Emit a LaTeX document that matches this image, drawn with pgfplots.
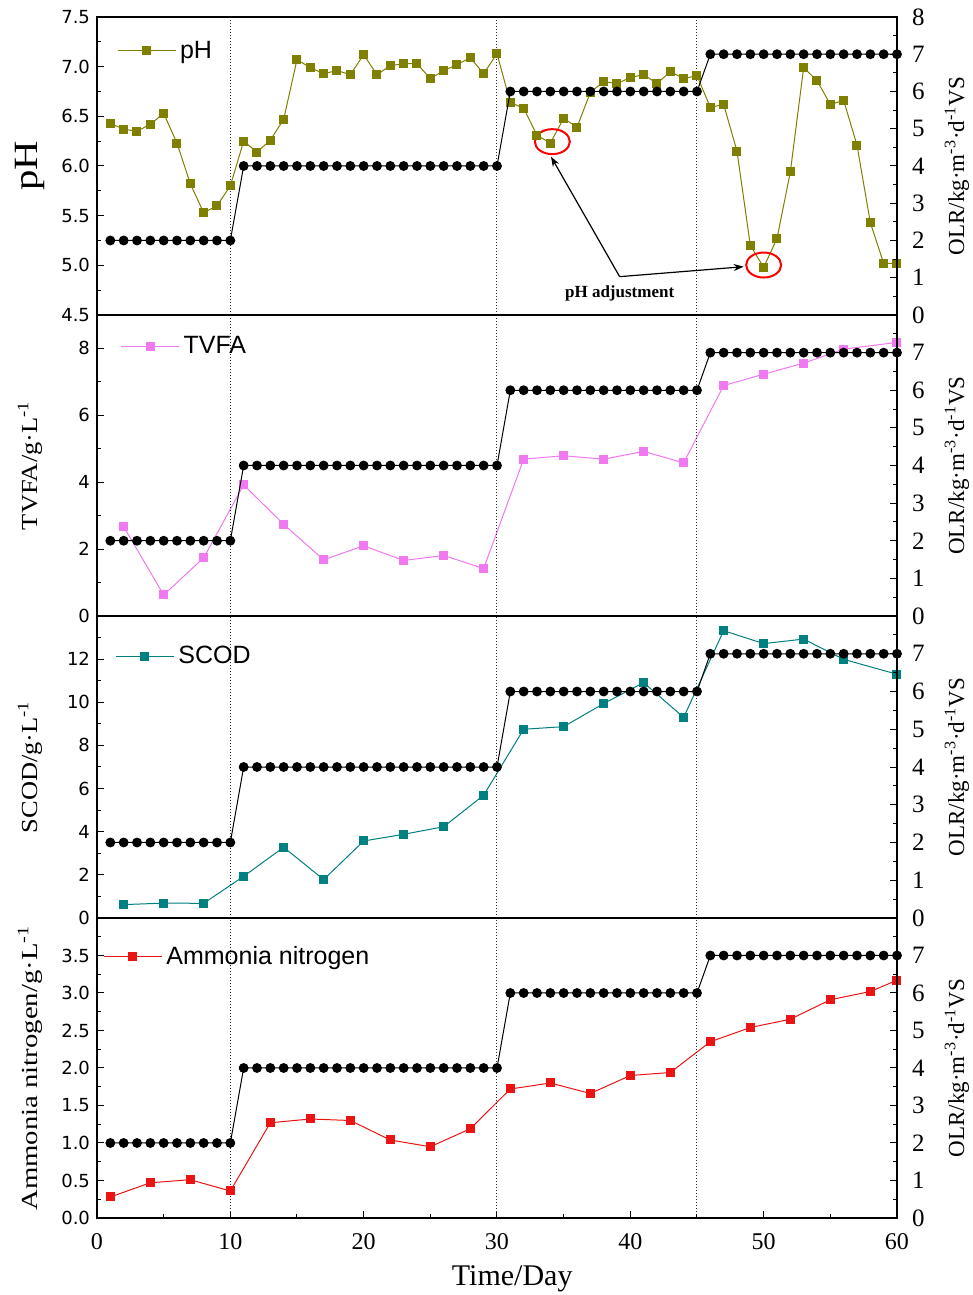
\documentclass[border=0pt]{standalone}
\usepackage{fontspec}
\setmainfont{Liberation Serif}
\newfontfamily\sansf{Liberation Sans}
\newfontfamily\dejavu{DejaVu Sans}
\usepackage{pgfplots}
\usepackage{pgfplotstable}
\pgfplotsset{compat=1.18}
\usetikzlibrary{arrows.meta}

\definecolor{phcol}{RGB}{128,128,0}
\definecolor{tvfacol}{RGB}{240,120,240}
\definecolor{scodcol}{RGB}{0,128,128}
\definecolor{nhcol}{RGB}{235,20,20}

% OLR steps (right axis of every panel)
\pgfplotstableread{
day olr
1 2
2 2
3 2
4 2
5 2
6 2
7 2
8 2
9 2
10 2
11 4
12 4
13 4
14 4
15 4
16 4
17 4
18 4
19 4
20 4
21 4
22 4
23 4
24 4
25 4
26 4
27 4
28 4
29 4
30 4
31 6
32 6
33 6
34 6
35 6
36 6
37 6
38 6
39 6
40 6
41 6
42 6
43 6
44 6
45 6
46 7
47 7
48 7
49 7
50 7
51 7
52 7
53 7
54 7
55 7
56 7
57 7
58 7
59 7
60 7
}\olrtab

\pgfplotstableread{
day ph
1 6.43
2 6.37
3 6.35
4 6.42
5 6.53
6 6.23
7 5.82
8 5.53
9 5.60
10 5.80
11 6.25
12 6.14
13 6.26
14 6.47
15 7.07
16 6.99
17 6.93
18 6.96
19 6.92
20 7.12
21 6.92
22 7.01
23 7.03
24 7.03
25 6.88
26 6.96
27 7.02
28 7.09
29 6.93
30 7.13
31 6.64
32 6.58
33 6.31
34 6.23
35 6.48
36 6.39
37 6.74
38 6.85
39 6.83
40 6.89
41 6.92
42 6.83
43 6.95
44 6.88
45 6.91
46 6.59
47 6.62
48 6.15
49 5.20
50 4.98
51 5.27
52 5.94
53 6.99
54 6.86
55 6.62
56 6.66
57 6.21
58 5.43
59 5.02
60 5.02
}\phtab

\pgfplotstableread{
day tvfa
2 2.67
5 0.63
8 1.74
11 3.92
14 2.74
17 1.68
20 2.10
23 1.66
26 1.81
29 1.42
32 4.69
35 4.79
38 4.69
41 4.92
44 4.58
47 6.89
50 7.23
53 7.56
56 7.98
60 8.18
}\tvfatab

\pgfplotstableread{
day scod
2 0.62
5 0.69
8 0.68
11 1.93
14 3.28
17 1.78
20 3.57
23 3.88
26 4.23
29 5.69
32 8.75
35 8.87
38 9.94
41 10.91
44 9.30
47 13.32
50 12.72
53 12.93
56 11.99
60 11.30
}\scodtab

\pgfplotstableread{
day nh
1 0.28
4 0.47
7 0.51
10 0.36
13 1.27
16 1.32
19 1.30
22 1.04
25 0.95
28 1.19
31 1.72
34 1.80
37 1.66
40 1.90
43 1.94
46 2.35
49 2.54
52 2.65
55 2.91
58 3.02
60 3.17
}\nhtab

\pgfplotsset{
  panel/.style={scale only axis, width=400pt, xmin=0, xmax=60,
    /pgf/number format/assume math mode=true,
    tick align=inside, major tick length=3.5pt, minor tick length=2pt,
    axis line style={line width=0.6pt}, every tick/.append style={black, line width=0.5pt},
    xtick=\empty},
  leftax/.style={panel, ytick pos=left,
    yticklabel style={font=\dejavu\fontsize{9}{10}\selectfont},
    ylabel style={at={([xshift=-33.5pt]axis description cs:0,0.5)}, anchor=center},
    legend style={draw=none, fill=none, inner sep=0pt, anchor=west,
      font=\sansf\fontsize{12.5}{14}\selectfont},
    legend image code/.code={\draw[mark repeat=2,mark phase=2,##1] plot coordinates {(0pt,0pt) (14.5pt,0pt) (29pt,0pt)};}},
  rightax/.style={panel, ytick pos=right, yticklabel pos=right,
    ymin=0, ymax=8, ytick={0,...,8}, minor ytick={0.5,1.5,...,7.5},
    yticklabel style={font=\fontsize{12.5}{14}\selectfont, xshift=4pt},
    ylabel style={at={([xshift=30pt]axis description cs:1,0.5)}, anchor=center, font=\fontsize{11.5}{13}\selectfont},
    ylabel={OLR/kg·m\textsuperscript{-3}·d\textsuperscript{-1}VS}},
  olrline/.style={black, line width=0.5pt, mark=*, mark size=2.2pt},
  series/.style={#1, line width=0.5pt, mark=square*, mark size=2pt},
  vline/.style={black!85, line width=0.5pt, densely dotted, forget plot}
}

\begin{document}
\begin{tikzpicture}

% ---------- pH ----------
\begin{axis}[leftax, at={(0,451.5pt)}, height=149pt, ymin=4.5, ymax=7.5,
  ytick={4.5,5,...,7.5}, minor ytick={4.75,5.25,...,7.25},
  yticklabel style={/pgf/number format/.cd, fixed, fixed zerofill, precision=1},
  ylabel={\scalebox{1.2}[1]{\fontsize{17}{20}\selectfont pH}},
  legend style={at={(axis description cs:0.0246,0.886)}}]
\addplot[series=phcol] table[x=day,y=ph] {\phtab};
\addlegendentry{pH}
\addplot[vline] coordinates {(10,4.5) (10,7.5)};
\addplot[vline] coordinates {(30,4.5) (30,7.5)};
\addplot[vline] coordinates {(45,4.5) (45,7.5)};
\draw[red, line width=1pt] (axis cs:34.15,6.245) ellipse [x radius=8.75pt, y radius=6.25pt];
\draw[red, line width=1pt] (axis cs:50.0,5.003) ellipse [x radius=8.75pt, y radius=6.25pt];
\draw[-{Stealth[length=5pt,width=3.5pt]}, line width=0.6pt] (axis cs:39.2,4.886) -- (axis cs:34.05,6.094);
\draw[-{Stealth[length=5pt,width=3.5pt]}, line width=0.6pt] (axis cs:39.2,4.886) -- (axis cs:48.5,4.986);
\node[font=\bfseries\fontsize{8.5}{10}\selectfont] at (axis cs:39.2,4.72) {pH adjustment};
\end{axis}
\begin{axis}[rightax, at={(0,451.5pt)}, height=149pt]
\addplot[olrline] table[x=day,y=olr] {\olrtab};
\end{axis}

% ---------- TVFA ----------
\begin{axis}[leftax, at={(0,301pt)}, height=150.5pt, ymin=0, ymax=9,
  ytick={0,2,...,8}, minor ytick={1,3,...,9},
  ylabel={\scalebox{1.15}[1]{\fontsize{11.5}{13}\selectfont TVFA/g·L\textsuperscript{-1}}},
  legend style={at={(axis description cs:0.029,0.894)}}]
\addplot[series=tvfacol] table[x=day,y=tvfa] {\tvfatab};
\addlegendentry{TVFA}
\addplot[vline] coordinates {(10,0) (10,9)};
\addplot[vline] coordinates {(30,0) (30,9)};
\addplot[vline] coordinates {(45,0) (45,9)};
\end{axis}
\begin{axis}[rightax, at={(0,301pt)}, height=150.5pt, yticklabels={0,1,2,3,4,5,6,7,{}}]
\addplot[olrline] table[x=day,y=olr] {\olrtab};
\end{axis}

% ---------- SCOD ----------
\begin{axis}[leftax, at={(0,150pt)}, height=151pt, ymin=0, ymax=14,
  ytick={0,2,...,12}, minor ytick={1,3,...,13},
  ylabel={\scalebox{1.15}[1]{\fontsize{11.5}{13}\selectfont SCOD/g·L\textsuperscript{-1}}},
  legend style={at={(axis description cs:0.0225,0.865)}}]
\addplot[series=scodcol] table[x=day,y=scod] {\scodtab};
\addlegendentry{SCOD}
\addplot[vline] coordinates {(10,0) (10,14)};
\addplot[vline] coordinates {(30,0) (30,14)};
\addplot[vline] coordinates {(45,0) (45,14)};
\end{axis}
\begin{axis}[rightax, at={(0,150pt)}, height=151pt, yticklabels={0,1,2,3,4,5,6,7,{}}]
\addplot[olrline] table[x=day,y=olr] {\olrtab};
\end{axis}

% ---------- Ammonia nitrogen ----------
\begin{axis}[leftax, at={(0,0)}, height=150pt, ymin=0, ymax=4,
  ytick={0,0.5,...,3.5}, minor ytick={0.25,0.75,...,3.75},
  yticklabel style={/pgf/number format/.cd, fixed, fixed zerofill, precision=1},
  xtick={0,10,...,60}, minor xtick={5,15,...,55}, xtick pos=bottom,
  xticklabel style={font=\fontsize{12}{14}\selectfont, yshift=-4pt},
  xlabel={Time/Day},
  xlabel style={at={([yshift=-30.5pt]axis description cs:0.519,0)}, anchor=center, font=\fontsize{15}{17}\selectfont},
  ylabel={\scalebox{1.25}[1]{\fontsize{11.5}{13}\selectfont Ammonia nitrogen/g·L\textsuperscript{-1}}},
  legend style={at={(axis description cs:0.0075,0.871)}}]
\addplot[series=nhcol] table[x=day,y=nh] {\nhtab};
\addlegendentry{Ammonia nitrogen}
\addplot[vline] coordinates {(10,0) (10,4)};
\addplot[vline] coordinates {(30,0) (30,4)};
\addplot[vline] coordinates {(45,0) (45,4)};
\end{axis}
\begin{axis}[rightax, at={(0,0)}, height=150pt, yticklabels={0,1,2,3,4,5,6,7,{}}]
\addplot[olrline] table[x=day,y=olr] {\olrtab};
\end{axis}

\pgfresetboundingbox
\path (-48.5pt,-38.5pt) rectangle (438pt,609pt);
\end{tikzpicture}
\end{document}
